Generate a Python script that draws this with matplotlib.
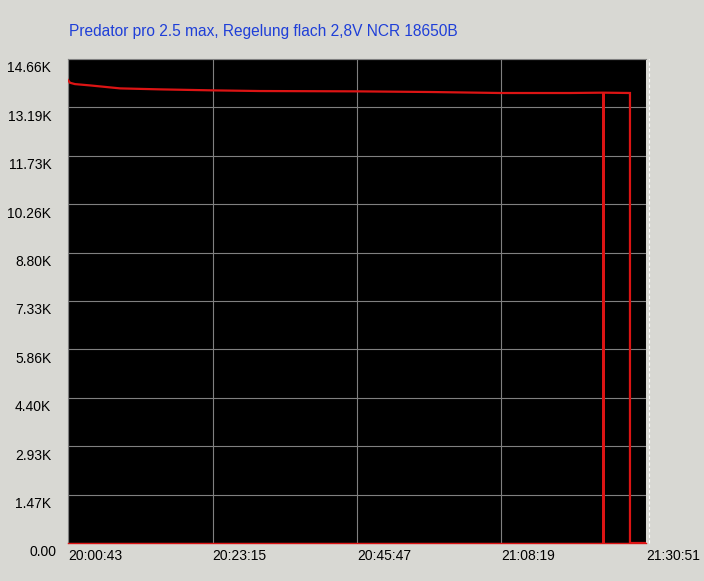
import matplotlib
matplotlib.use("Agg")
import matplotlib.pyplot as plt
from matplotlib.lines import Line2D
from matplotlib.ticker import FuncFormatter
from matplotlib.transforms import ScaledTranslation

# ---------------------------------------------------------------------------
# Data (seconds after 20:00:43, lux in thousands)
# ---------------------------------------------------------------------------
START_SEC = 20 * 3600 + 0 * 60 + 43

run_t = [0, 19, 65, 206, 487, 861, 1352, 1796, 2704, 3400, 4042, 4697, 5003,
         5258, 5258, 5408]
run_v = [14.02, 13.94, 13.90, 13.86, 13.77, 13.74, 13.71, 13.69, 13.68, 13.66,
         13.63, 13.63, 13.64, 13.63, 0.0, 0.0]

# single-sample dropout
glitch_t = [5003, 5003]
glitch_v = [13.64, 0.0]

x_ticks = [0, 1352, 2704, 4056, 5408]
y_ticks = [0.0, 1.466, 2.932, 4.398, 5.864, 7.33, 8.796, 10.262, 11.728, 13.194, 14.66]
y_labels = ["0.00", "1.47K", "2.93K", "4.40K", "5.86K", "7.33K", "8.80K",
            "10.26K", "11.73K", "13.19K", "14.66K"]

TITLE = "Predator pro 2.5 max, Regelung flach 2,8V NCR 18650B"

BG = "#d8d8d3"
RED = "#dc1414"
GRID = "#808080"

plt.rcParams["font.family"] = ["Liberation Sans", "DejaVu Sans"]

fig = plt.figure(figsize=(7.04, 5.81), dpi=100)
fig.patch.set_facecolor(BG)
ax = fig.add_axes([68 / 704, 38 / 581, 578 / 704, 484 / 581])
ax.set_facecolor("black")

ax.plot(run_t, run_v, color=RED, lw=1.6, solid_joinstyle="miter", zorder=3)
ax.plot(glitch_t, glitch_v, color=RED, lw=0.9, antialiased=False, zorder=3)

ax.set_xlim(x_ticks[0], x_ticks[-1])
ax.set_ylim(y_ticks[0], y_ticks[-1])


def fmt_time(s, _pos):
    t = int(round(START_SEC + s))
    return f"{t // 3600:02d}:{(t % 3600) // 60:02d}:{t % 60:02d}"


ax.set_xticks(x_ticks)
ax.xaxis.set_major_formatter(FuncFormatter(fmt_time))
ax.set_yticks(y_ticks, y_labels)
ax.grid(True, color=GRID, lw=0.8)
ax.set_axisbelow(True)
ax.tick_params(length=0, labelsize=10, colors="black")
ax.tick_params(axis="y", pad=12)
ax.tick_params(axis="x", pad=4)
for lab in ax.get_xticklabels():
    lab.set_ha("left")
ylabs = ax.get_yticklabels()
for i, lab in enumerate(ylabs):
    dx = 0.05 if i == 0 else 0.0
    lab.set_transform(lab.get_transform() +
                      ScaledTranslation(dx, -0.08, fig.dpi_scale_trans))

for side in ("top", "left"):
    ax.spines[side].set_color(GRID)
    ax.spines[side].set_linewidth(0.8)
ax.spines["right"].set_visible(False)
ax.spines["bottom"].set_color(RED)
ax.spines["bottom"].set_linewidth(1.0)

# dashed frame marker right of the plot
ax.add_line(Line2D([1.005, 1.005], [0, 1], transform=ax.transAxes,
                   color="white", lw=0.8, ls=(0, (3, 2)), clip_on=False))

fig.text(69 / 704, 1 - 36 / 581, TITLE, color="#1f3fd8", fontsize=11.2,
         ha="left", va="baseline")

fig.savefig("out.png", dpi=100, facecolor=fig.get_facecolor())
